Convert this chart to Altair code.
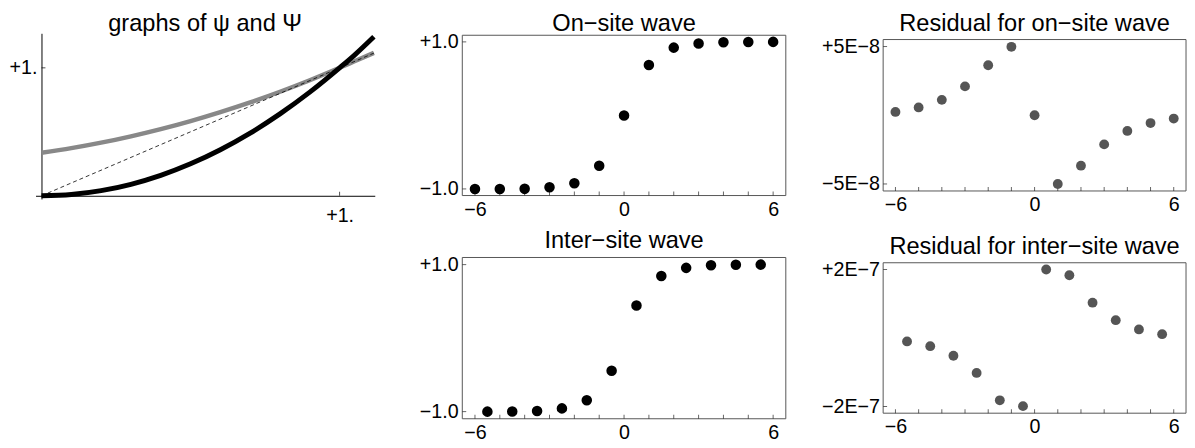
import altair as alt
import pandas as pd

FONT = "Liberation Sans"

# ---------- panel 1: graphs of psi and Psi ----------
curve_x = [0.0, 0.1, 0.2, 0.3, 0.4, 0.5, 0.6, 0.7, 0.8, 0.9, 1.0, 1.05, 1.115]
psi_y = [0.0, 0.01, 0.04, 0.09, 0.16, 0.25, 0.36, 0.49, 0.64, 0.81, 1.0, 1.10, 1.243]
Psi_y = [0.336, 0.372, 0.415, 0.465, 0.521, 0.584, 0.654, 0.730, 0.813, 0.903, 1.0, 1.051, 1.117]
diag_x = [0.0, 1.115]
diag_y = [0.0, 1.115]
p1_xticks = [1.0]
p1_yticks = [1.0]
p1_xlabels = ["+1."]
p1_ylabels = ["+1."]

# ---------- on-site / inter-site waves ----------
onsite_x = [-6, -5, -4, -3, -2, -1, 0, 1, 2, 3, 4, 5, 6]
onsite_y = [-1.0, -1.0, -0.999, -0.977, -0.922, -0.686, 0.0, 0.686, 0.922, 0.977, 0.995, 0.999, 1.0]
inter_x = [-5.5, -4.5, -3.5, -2.5, -1.5, -0.5, 0.5, 1.5, 2.5, 3.5, 4.5, 5.5]
inter_y = [-1.0, -0.999, -0.991, -0.956, -0.844, -0.445, 0.445, 0.844, 0.956, 0.991, 0.998, 1.0]

# ---------- residuals ----------
res_on_y = [0.24e-8, 0.57e-8, 1.12e-8, 2.10e-8, 3.64e-8, 4.98e-8, 0.0,
            -5.0e-8, -3.67e-8, -2.12e-8, -1.14e-8, -0.57e-8, -0.24e-8]
res_inter_y = [-0.10e-7, -0.24e-7, -0.52e-7, -1.02e-7, -1.82e-7, -1.99e-7,
               2.0e-7, 1.83e-7, 1.03e-7, 0.52e-7, 0.25e-7, 0.11e-7]

x_major = [-6, 0, 6]
x_major_labels = ["\u22126", "0", "6"]
x_minor = [-6, -5, -4, -3, -2, -1, 0, 1, 2, 3, 4, 5, 6]
wave_yticks = [1.0, -1.0]
wave_ylabels = ["+1.0", "\u22121.0"]
res_on_yticks = [5e-8, -5e-8]
res_on_ylabels = ["+5E\u22128", "\u22125E\u22128"]
res_inter_yticks = [2e-7, -2e-7]
res_inter_ylabels = ["+2E\u22127", "\u22122E\u22127"]

titles = {
    "p1": "graphs of \u03c8 and \u03a8",
    "p2": "On\u2212site wave",
    "p3": "Inter\u2212site wave",
    "p4": "Residual for on\u2212site wave",
    "p5": "Residual for inter\u2212site wave",
}

LABEL_SIZE = 20
TITLE_SIZE = 24
FRAME = "#555555"


def label_expr(values, labels):
    expr = "''"
    for v, lab in reversed(list(zip(values, labels))):
        tol = abs(v) * 1e-6 + 1e-15
        expr = f"abs(datum.value - ({v!r})) < {tol!r} ? '{lab}' : {expr}"
    return expr


def title_layer(text, w, gap):
    return alt.Chart(pd.DataFrame({"t": [text]})).mark_text(
        font=FONT, fontSize=TITLE_SIZE, baseline="alphabetic", align="center", color="black"
    ).encode(text="t:N", x=alt.value(w / 2), y=alt.value(-gap))


def framed(xs, ys, color, size, w, h, xdom, ydom, frame_y, yticks, ylabels, title, gap, ypad):
    xs_scale = alt.Scale(domain=xdom, nice=False, zero=False)
    ys_scale = alt.Scale(domain=ydom, nice=False, zero=False)
    xaxis = alt.Axis(values=x_major, labelExpr=label_expr(x_major, x_major_labels), domain=False,
                     ticks=False, tickSize=0, grid=False, labelFontSize=LABEL_SIZE, labelFont=FONT,
                     labelColor="black", labelPadding=4, labelFlush=False, labelOverlap=False, title=None)
    yaxis = alt.Axis(values=yticks, labelExpr=label_expr(yticks, ylabels), domain=False,
                     ticks=False, tickSize=0, grid=False, labelFontSize=LABEL_SIZE, labelFont=FONT,
                     labelColor="black", labelPadding=ypad, labelFlush=False, labelOverlap=False, title=None)
    X = lambda f: alt.X(f, scale=xs_scale, axis=xaxis)
    Y = lambda f: alt.Y(f, scale=ys_scale, axis=yaxis)
    frame = alt.Chart(pd.DataFrame({"x0": [xdom[0]], "x1": [xdom[1]],
                                    "y0": [frame_y[0]], "y1": [frame_y[1]]})).mark_rect(
        fillOpacity=0, stroke=FRAME, strokeWidth=1
    ).encode(x=X("x0:Q"), x2="x1:Q", y=Y("y0:Q"), y2="y1:Q")
    pts = alt.Chart(pd.DataFrame({"x": xs, "y": ys})).mark_circle(
        size=size, color=color, opacity=1).encode(x=X("x:Q"), y=Y("y:Q"))
    xt = alt.Chart(pd.DataFrame({"t": x_minor})).mark_tick(
        orient="vertical", size=4, thickness=1, color="#222", yOffset=-2
    ).encode(x=X("t:Q"), y=alt.value(h))
    yt = alt.Chart(pd.DataFrame({"t": yticks})).mark_tick(
        orient="horizontal", size=4, thickness=1, color="#222", xOffset=2
    ).encode(y=Y("t:Q"), x=alt.value(0))
    return alt.layer(frame, xt, yt, pts, title_layer(title, w, gap)).properties(
        width=w, height=h,
        view=alt.ViewBackground(stroke="transparent"),
    )


# ---------- panel 1 ----------
P1W, P1H = 345, 168.5
p1x = alt.Scale(domain=[-0.02, 1.118], nice=False, zero=False)
p1y = alt.Scale(domain=[-0.025, 1.27], nice=False, zero=False)
p1_xaxis = alt.Axis(values=p1_xticks, labelExpr=label_expr(p1_xticks, p1_xlabels), domain=True,
                    domainColor="black", domainWidth=1, ticks=False, tickSize=0, grid=False,
                    labelFontSize=LABEL_SIZE, labelFont=FONT, labelColor="black", labelPadding=10,
                    labelFlush=False, offset=-3.25, title=None)
p1_yaxis = alt.Axis(values=p1_yticks, labelExpr=label_expr(p1_yticks, p1_ylabels), domain=True,
                    domainColor="black", domainWidth=1, ticks=False, tickSize=0, grid=False,
                    labelFontSize=LABEL_SIZE, labelFont=FONT, labelColor="black", labelPadding=4.6,
                    labelFlush=False, offset=-6.06, title=None)

curves = pd.DataFrame({"x": curve_x, "psi": psi_y, "Psi": Psi_y})
gray_line = alt.Chart(curves).mark_line(color="#888888", strokeWidth=4.5, interpolate="monotone").encode(
    x=alt.X("x:Q", scale=p1x, axis=p1_xaxis), y=alt.Y("Psi:Q", scale=p1y, axis=p1_yaxis))
black_line = alt.Chart(curves).mark_line(color="black", strokeWidth=5, interpolate="monotone").encode(
    x=alt.X("x:Q", scale=p1x, axis=p1_xaxis), y=alt.Y("psi:Q", scale=p1y, axis=p1_yaxis))
diag = alt.Chart(pd.DataFrame({"x": diag_x, "y": diag_y})).mark_line(
    color="black", strokeWidth=0.8, strokeDash=[4, 3]).encode(
    x=alt.X("x:Q", scale=p1x, axis=p1_xaxis), y=alt.Y("y:Q", scale=p1y, axis=p1_yaxis))
p1_xt = alt.Chart(pd.DataFrame({"t": p1_xticks, "z": [0.0]})).mark_tick(
    orient="vertical", size=4, thickness=1, color="black", yOffset=-2).encode(
    x=alt.X("t:Q", scale=p1x, axis=p1_xaxis), y=alt.Y("z:Q", scale=p1y, axis=p1_yaxis))
p1_yt = alt.Chart(pd.DataFrame({"t": p1_yticks, "z": [0.0]})).mark_tick(
    orient="horizontal", size=4, thickness=1, color="black", xOffset=2).encode(
    y=alt.Y("t:Q", scale=p1y, axis=p1_yaxis), x=alt.X("z:Q", scale=p1x, axis=p1_xaxis))
p1 = alt.layer(gray_line, diag, black_line, p1_xt, p1_yt, title_layer(titles["p1"], P1W, 2)).properties(
    width=P1W, height=P1H,
    view=alt.ViewBackground(stroke="transparent"),
)

# plot areas of the top row all start at the same height; frames are drawn lower where needed
p2 = framed(onsite_x, onsite_y, "black", 115, 329, 165, [-6.51, 6.51], [-1.09, 1.116748], [-1.09, 1.09],
            wave_yticks, wave_ylabels, titles["p2"], 2, 4.2)
p3 = framed(inter_x, inter_y, "black", 115, 329, 164, [-6.51, 6.51], [-1.097, 1.097], [-1.097, 1.097],
            wave_yticks, wave_ylabels, titles["p3"], 10, 4.2)
p4 = framed(onsite_x, res_on_y, "#555555", 100, 308, 160.35, [-6.53, 6.53], [-5.51e-8, 5.9644e-8],
            [-5.51e-8, 5.51e-8], res_on_yticks, res_on_ylabels, titles["p4"], 2, 3.8)
p5 = framed(inter_x, res_inter_y, "#555555", 100, 308, 153, [-6.53, 6.53], [-2.196e-7, 2.196e-7],
            [-2.196e-7, 2.196e-7], res_inter_yticks, res_inter_ylabels, titles["p5"], 8.8, 3.8)

col2 = alt.vconcat(p2, p3, spacing=8)
col3 = alt.vconcat(p4, p5, spacing=19.35)
chart = alt.hconcat(p1, col2, col3, spacing=34).properties(
    padding={"left": 0, "top": 0, "right": 0, "bottom": 0}
).configure(font=FONT).configure_view(stroke="transparent")

chart.save("out.html", embed_options={"renderer": "svg", "actions": False})
